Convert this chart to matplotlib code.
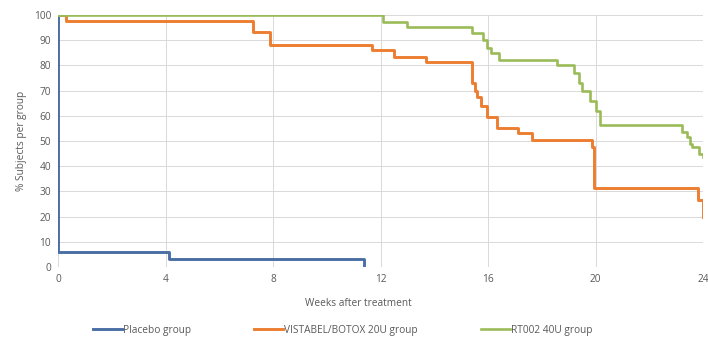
import matplotlib.pyplot as plt

# step curves (weeks, % subjects)
placebo_weeks = [0, 0, 4.13, 11.4, 11.4]
placebo_pct = [100, 6, 3.1, 3.1, 0.5]

vistabel_weeks = [0, 0.3, 7.25, 7.88, 11.67, 12.5, 13.7, 15.4, 15.5, 15.6, 15.75, 15.95,
                  16.35, 17.1, 17.65, 19.85, 19.96, 23.3, 23.8, 24.0, 24.0]
vistabel_pct = [100, 97.6, 93.2, 88.1, 86.1, 83.3, 81.3, 73, 70, 67.5, 64, 59.5,
                55, 53, 50.4, 47.6, 31.3, 31.3, 26.6, 20, 20]

rt002_weeks = [0, 12.1, 13.0, 15.4, 15.8, 15.95, 16.1, 16.4, 18.55, 19.2, 19.4, 19.5,
               19.8, 20.0, 20.15, 23.2, 23.4, 23.5, 23.6, 23.86, 24.0]
rt002_pct = [100, 97.2, 95.2, 92.8, 90, 87, 85, 82, 80, 77, 73, 70,
             66, 62, 56.5, 53.5, 51.5, 49, 47.6, 45, 43.5]

series = [
    ("Placebo group", placebo_weeks, placebo_pct, "#4A6FA5", 2.1),
    ("VISTABEL/BOTOX 20U group", vistabel_weeks, vistabel_pct, "#ED7D31", 2.1),
    ("RT002 40U group", rt002_weeks, rt002_pct, "#9BBB59", 1.9),
]

plt.rcParams['font.family'] = ['Open Sans', 'DejaVu Sans']
fs = 7.3

fig = plt.figure(figsize=(7.08, 3.39), dpi=100)
ax = fig.add_axes([0.082, 0.212, 0.911, 0.744])

for name, w, p, c, lw in series:
    ax.plot(w, p, drawstyle='steps-post', color=c, lw=lw, label=name)

ax.set_xlim(0, 24)
ax.set_ylim(0, 100)
ax.set_xticks(range(0, 25, 4))
ax.set_yticks(range(0, 101, 10))
ax.grid(True, color='#D9D9D9', lw=0.7)
ax.set_axisbelow(True)
for s in ax.spines.values():
    s.set_visible(False)
ax.tick_params(length=0, labelsize=fs, labelcolor='#595959', pad=5)

ax.set_ylabel("% Subjects per group", fontsize=fs, color='#595959', labelpad=5)
fig.text(358 / 708, 1 - 303 / 339, "Weeks after treatment", fontsize=fs,
         color='#595959', ha='center', va='center')

fig.legend(loc='center', bbox_to_anchor=(0.484, 1 - 330 / 339), ncol=3, frameon=False,
           fontsize=fs, labelcolor='#595959', handlelength=2.85, handletextpad=0.1,
           columnspacing=6.2)

fig.savefig("out.png", dpi=100)
